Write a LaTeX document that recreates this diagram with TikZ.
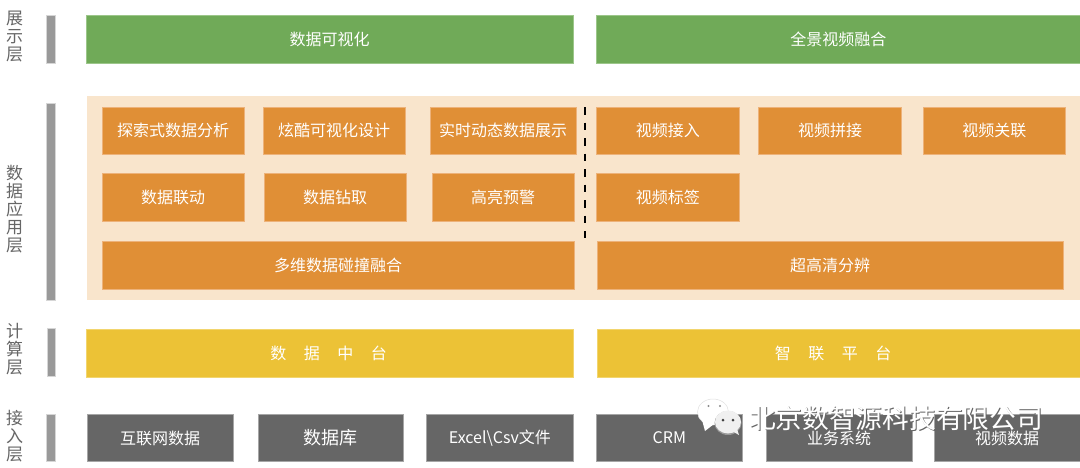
\documentclass[tikz,border=0pt]{standalone}
\usepackage{fontspec}
\setmainfont{Noto Sans CJK SC}
\definecolor{cgreen}{HTML}{70AA58}
\definecolor{cgreenb}{HTML}{9CC68A}
\definecolor{corange}{HTML}{E08F36}
\definecolor{corangeb}{HTML}{EDB27A}
\definecolor{cpeach}{HTML}{F9E5CC}
\definecolor{cyellow}{HTML}{ECC236}
\definecolor{cyellowb}{HTML}{F2D56E}
\definecolor{cdark}{HTML}{666666}
\definecolor{cdarkb}{HTML}{A6A6A6}
\definecolor{cbar}{HTML}{999999}
\definecolor{clabel}{HTML}{666666}
\tikzset{
  bx/.style={inner sep=0pt,outer sep=0pt,text=white,font=\fontsize{16}{17}\selectfont,line width=0.8pt,anchor=center},
  greenbox/.style={bx,fill=cgreen,draw=cgreenb},
  orangebox/.style={bx,fill=corange,draw=corangeb},
  yellowbox/.style={bx,fill=cyellow,draw=cyellowb},
  darkbox/.style={bx,fill=cdark,draw=cdarkb},
  peachbox/.style={inner sep=0pt,outer sep=0pt,fill=cpeach,anchor=center},
  barbox/.style={inner sep=0pt,outer sep=0pt,fill=cbar,draw=cbar!40,line width=0.6pt,anchor=center},
  layerlabel/.style={text=clabel,font=\fontsize{17}{18}\selectfont,align=center,inner sep=0pt,anchor=center},
  divider/.style={line width=1.5pt,black,dash pattern=on 7.5pt off 8pt},
  wmtext/.style={inner sep=0pt,anchor=center,font=\fontsize{26.7}{28}\selectfont},
}
% name, x1, y1, x2, y2, style, text
\newcommand{\bxn}[7]{\node[#6,minimum width={#4pt-#2pt-0.7pt},minimum height={#5pt-#3pt-0.5pt}] (#1) at ({(#2+#4)/2-0.35},{(#3+#5)/2-0.2}) {\raisebox{0.7pt}{#7}};}
\begin{document}
\begin{tikzpicture}[x=1pt,y=-1pt]
\useasboundingbox[fill=white] (0,0) rectangle (1080,467);
% side bars
\bxn{b1}{46.5}{15}{55.5}{63.5}{barbox}{}
\bxn{b2}{46.5}{103}{55.5}{300.5}{barbox}{}
\bxn{b3}{47.5}{328}{56}{376.5}{barbox}{}
\bxn{b4}{46.5}{414.5}{55.5}{462}{barbox}{}
% layer labels
\node[layerlabel] (l1) at (14.5,37) {展\\示\\层};
\node[layerlabel] (l2) at (14.5,209) {数\\据\\应\\用\\层};
\node[layerlabel] (l3) at (14.5,349.5) {计\\算\\层};
\node[layerlabel] (l4) at (14.5,436) {接\\入\\层};
% display layer
\bxn{g1}{86}{15}{574}{63.5}{greenbox}{数据可视化}
\bxn{g2}{596.5}{15}{1081}{63.5}{greenbox}{全景视频融合}
% application layer
\bxn{bg}{87}{96}{1081}{300.5}{peachbox}{}
\bxn{r11}{102}{107}{245}{155}{orangebox}{探索式数据分析}
\bxn{r12}{263}{107}{406}{155}{orangebox}{炫酷可视化设计}
\bxn{r13}{430}{107}{577}{155}{orangebox}{实时动态数据展示}
\bxn{r14}{596.5}{107}{740}{155}{orangebox}{视频接入}
\bxn{r15}{758.5}{107}{902.5}{155}{orangebox}{视频拼接}
\bxn{r16}{923.5}{107}{1066}{155}{orangebox}{视频关联}
\bxn{r21}{102}{173.5}{245}{222}{orangebox}{数据联动}
\bxn{r22}{264}{173.5}{407}{222}{orangebox}{数据钻取}
\bxn{r23}{432}{173.5}{575}{222}{orangebox}{高亮预警}
\bxn{r24}{596.5}{173.5}{740}{222}{orangebox}{视频标签}
\bxn{r31}{102}{241.5}{575}{290}{orangebox}{多维数据碰撞融合}
\bxn{r32}{597}{241.5}{1064}{290}{orangebox}{超高清分辨}
\coordinate (d1) at (585,107);
\coordinate (d2) at (585,238);
\draw[divider] (d1) -- (d2);
% compute layer
\bxn{y1}{86}{329}{574}{378}{yellowbox}{数\hspace{17.5pt}据\hspace{17.5pt}中\hspace{17.5pt}台\hspace{2pt}}
\bxn{y2}{597}{329}{1081}{378}{yellowbox}{智\hspace{17.5pt}联\hspace{17.5pt}平\hspace{17.5pt}台\hspace{11pt}}
% access layer
\bxn{k1}{87}{414.5}{234}{462}{darkbox}{互联网数据}
\bxn{k2}{258}{414.5}{404}{462}{darkbox}{\fontsize{18}{19}\selectfont 数据库}
\bxn{k3}{426.5}{414.5}{574}{462}{darkbox}{Excel\textbackslash Csv文件}
\bxn{k4}{596.5}{414.5}{743}{462}{darkbox}{CRM}
\bxn{k5}{766}{414.5}{913}{462}{darkbox}{业务系统}
\bxn{k6}{934}{414.5}{1081}{462}{darkbox}{视频数据}
% watermark icon
\fill[white,draw=black!12,line width=0.5pt] (713,412) ellipse (15.5 and 13);
\fill[white] (702,420) -- (705,431) -- (714,424) -- cycle;
\fill[black!45] (708.5,406) circle (1.1);
\fill[black!45] (720,406) circle (1.1);
\fill[black!40] (728,423) ellipse (13.5 and 12);
\fill[black!6] (728,422) ellipse (13 and 11.5);
\fill[black!6] (732,431) -- (739,435) -- (737,429) -- cycle;
\fill[black!75] (723,420) circle (1.5);
\fill[black!75] (733,420) circle (1.5);
% watermark text
\node[wmtext,text=black!60] (wms) at (897,419.5) {北京数智源科技有限公司};
\node[wmtext,text=white] (wm) at (896,418) {北京数智源科技有限公司};
\end{tikzpicture}
\end{document}
